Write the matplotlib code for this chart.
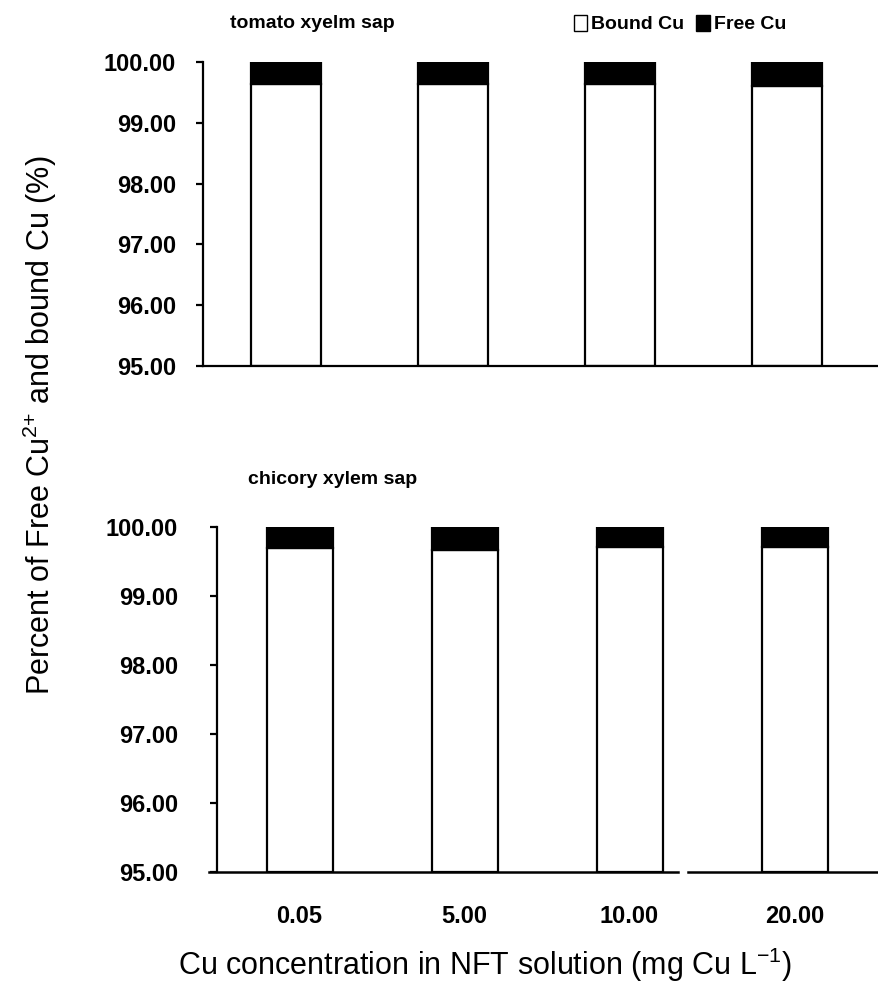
import matplotlib.pyplot as plt
from matplotlib.patches import Patch
import numpy as np

# Cu concentration levels in the NFT solution (mg Cu/L)
conc_labels = ['0.05', '5.00', '10.00', '20.00']

# Percentage of bound Cu in the xylem sap; the remainder up to 100 % is free Cu2+
tomato_bound = [99.64, 99.64, 99.64, 99.61]
chicory_bound = [99.70, 99.67, 99.71, 99.71]

y_ticks = [95, 96, 97, 98, 99, 100]

plt.rcParams['font.family'] = ['Liberation Sans', 'DejaVu Sans']
plt.rcParams['mathtext.fontset'] = 'custom'
plt.rcParams['mathtext.rm'] = 'Liberation Sans'

fig = plt.figure(figsize=(8.79, 10.08), dpi=100)
ax_top = fig.add_axes([203 / 879, 0.6369, 1 - 203 / 879, 0.3016])
ax_bot = fig.add_axes([217 / 879, 0.1349, 1 - 217 / 879, 0.3423])

tick_font = dict(weight='bold', size=17)


def draw_panel(ax, bound, width, xlim, pad):
    x = np.arange(len(bound))
    free = [100 - b for b in bound]
    ax.bar(x, np.array(bound) - 95, bottom=95, width=width, color='white',
           edgecolor='black', linewidth=1.6, zorder=2)
    ax.bar(x, free, bottom=bound, width=width, color='black',
           edgecolor='black', linewidth=1.6, zorder=2)
    ax.set_ylim(95, 100)
    ax.set_xlim(*xlim)
    ax.set_yticks(y_ticks)
    ax.set_yticklabels(['%.2f' % t for t in y_ticks], fontdict=tick_font)
    ax.tick_params(axis='y', direction='out', length=5, width=1.6, pad=pad)
    for side in ['top', 'right']:
        ax.spines[side].set_visible(False)
    ax.spines['left'].set_linewidth(1.6)
    ax.spines['bottom'].set_linewidth(1.6)
    return x


x = draw_panel(ax_top, tomato_bound, 0.42, (-0.497, 3.551), 14.5)
ax_top.set_xticks([])

x = draw_panel(ax_bot, chicory_bound, 0.40, (-0.5, 3.512), 23)
ax_bot.set_xticks(x)
ax_bot.set_xticklabels(conc_labels, fontdict=dict(weight='bold', size=17))
ax_bot.tick_params(axis='x', length=0, pad=24)

# the lower baseline is broken just past the third bar
ax_bot.spines['bottom'].set_visible(False)
ax_bot.axhline(95, xmin=-0.012, xmax=0.696, color='black', lw=1.8, clip_on=False)
ax_bot.axhline(95, xmin=0.711, xmax=1.0, color='black', lw=1.8, clip_on=False)

# panel titles
fig.text(230 / 879, 1 - 24 / 1008, 'tomato xyelm sap', fontsize=14, weight='bold',
         va='center', ha='left')
fig.text(248 / 879, 1 - 480 / 1008, 'chicory xylem sap', fontsize=14, weight='bold',
         va='center', ha='left')

legend_handles = [Patch(facecolor='white', edgecolor='black', label='Bound Cu'),
                  Patch(facecolor='black', edgecolor='black', label='Free Cu')]
fig.legend(handles=legend_handles, loc='center left', bbox_to_anchor=(564 / 879, 1 - 24 / 1008),
           ncol=2, frameon=False, handlelength=0.7, handleheight=0.9, handletextpad=0.2,
           columnspacing=0.6, prop=dict(weight='bold', size=14), borderpad=0)

fig.text(40 / 879, 1 - 425 / 1008, 'Percent of Free Cu$^{2{+}}$ and bound Cu (%)', rotation=90,
         fontsize=22, va='center', ha='center')
fig.text(485 / 879, 1 - 965 / 1008, 'Cu concentration in NFT solution (mg Cu L$^{-1}$)',
         fontsize=22, va='center', ha='center')

fig.savefig('out.png', dpi=100, facecolor='white')
